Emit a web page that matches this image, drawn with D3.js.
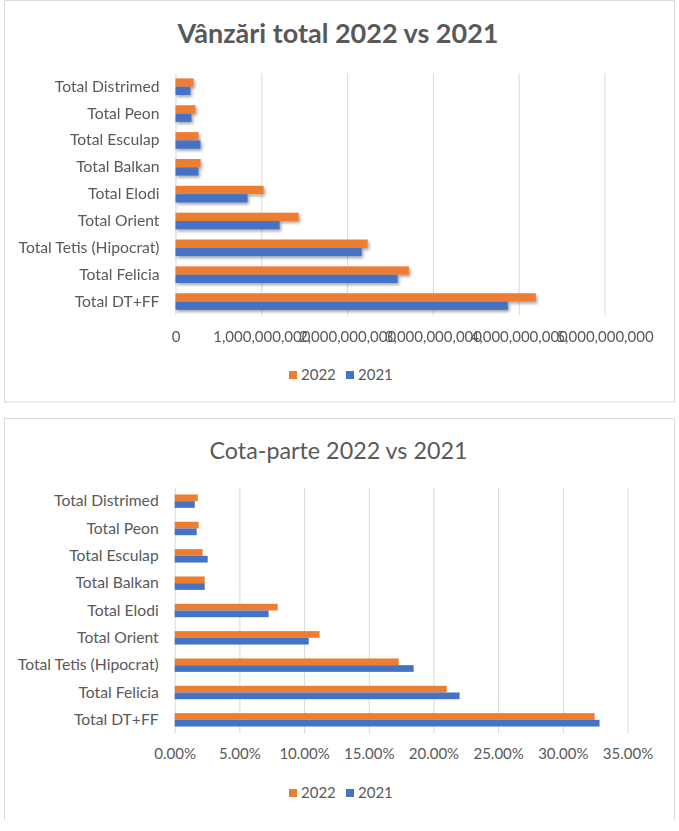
<!DOCTYPE html>
<html lang="ro">
<head>
    <meta charset="UTF-8">
    <title>Vânzări total 2022 vs 2021</title>
    <script src="https://d3js.org/d3.v7.min.js"></script>
    <style>
        body {
            margin: 0;
            padding: 0;
            background: #ffffff;
        }
        svg {
            display: block;
            font-family: 'Lato', 'Open Sans', sans-serif;
        }
        text {
            fill: #595959;
        }
    </style>
</head>
<body>
    <svg width="679" height="831"></svg>

    <script>
        // categories, top to bottom as they appear
        const categories = [
            "Total Distrimed", "Total Peon", "Total Esculap", "Total Balkan",
            "Total Elodi", "Total Orient", "Total Tetis (Hipocrat)",
            "Total Felicia", "Total DT+FF"
        ];
        const seriesNames = ["2022", "2021"];
        const seriesColors = ["#ed7d31", "#4472c4"];

        // sales totals (lei)
        const sales2022 = [210e6, 233e6, 268e6, 292e6, 1027e6, 1435e6, 2240e6, 2720e6, 4200e6];
        const sales2021 = [175e6, 187e6, 292e6, 268e6, 840e6, 1214e6, 2170e6, 2590e6, 3874e6];
        const salesTicks = [0, 1e9, 2e9, 3e9, 4e9, 5e9];

        // market share
        const share2022 = [0.0178, 0.0185, 0.0216, 0.0232, 0.0796, 0.1120, 0.1731, 0.2102, 0.3246];
        const share2021 = [0.0155, 0.0170, 0.0255, 0.0232, 0.0726, 0.1036, 0.1847, 0.2202, 0.3284];
        const shareTicks = [0, 0.05, 0.10, 0.15, 0.20, 0.25, 0.30, 0.35];

        const svg = d3.select("svg");

        const defs = svg.append("defs");
        defs.append("filter")
            .attr("id", "shadow")
            .attr("x", "-10%").attr("y", "-40%")
            .attr("width", "130%").attr("height", "200%")
            .append("feDropShadow")
            .attr("dx", 1.5).attr("dy", 2)
            .attr("stdDeviation", 1.5)
            .attr("flood-color", "#000")
            .attr("flood-opacity", 0.35);

        function drawChart(cfg) {
            const g = svg.append("g");

            // frame
            const f = cfg.frame;
            g.append("path")
                .attr("d", cfg.openBottom
                    ? `M${f.x0},${f.y1} V${f.y0} H${f.x1} V${f.y1}`
                    : `M${f.x0},${f.y0} H${f.x1} V${f.y1} H${f.x0} Z`)
                .attr("fill", "none")
                .attr("stroke", "#d9d9d9")
                .attr("stroke-width", 1);

            // title
            g.append("text")
                .attr("x", cfg.titleX)
                .attr("y", cfg.titleY)
                .attr("text-anchor", "middle")
                .attr("font-size", cfg.titleSize)
                .attr("font-weight", cfg.titleWeight)
                .text(cfg.title);

            const x = d3.scaleLinear()
                .domain(cfg.domain)
                .range([cfg.left, cfg.right]);

            const y = d3.scaleBand()
                .domain(categories)
                .range([cfg.top, cfg.bottom])
                .paddingInner(cfg.pad)
                .paddingOuter(cfg.pad / 2);

            const ySub = d3.scaleBand()
                .domain(seriesNames)
                .range([0, y.bandwidth()]);

            // gridlines
            g.append("g")
                .attr("transform", `translate(0,${cfg.bottom})`)
                .call(d3.axisBottom(x).tickValues(cfg.ticks).tickSize(-(cfg.bottom - cfg.top)).tickFormat(""))
                .call(a => a.select(".domain").remove())
                .call(a => a.selectAll("line").attr("stroke", "#d9d9d9"));

            // bars
            const rows = categories.map((c, i) => ({
                cat: c,
                vals: [cfg.values[0][i], cfg.values[1][i]]
            }));

            const grp = g.append("g")
                .attr("filter", cfg.shadow ? "url(#shadow)" : null);

            grp.selectAll(".cat")
                .data(rows)
                .enter()
                .append("g")
                .attr("transform", d => `translate(0,${y(d.cat)})`)
                .selectAll("rect")
                .data(d => d.vals.map((v, k) => ({ s: seriesNames[k], v: v, k: k })))
                .enter()
                .append("rect")
                .attr("x", x(0))
                .attr("y", d => ySub(d.s))
                .attr("width", d => x(d.v) - x(0))
                .attr("height", ySub.bandwidth())
                .attr("fill", d => seriesColors[d.k]);

            // category labels
            g.append("g")
                .attr("transform", `translate(${cfg.left},0)`)
                .call(d3.axisLeft(y).tickSize(0).tickPadding(16))
                .call(a => a.select(".domain").remove())
                .call(a => a.selectAll("text")
                    .attr("font-size", 15.7)
                    .attr("font-family", "Lato, sans-serif")
                    .attr("fill", "#595959"));

            // value ticks
            g.append("g")
                .attr("transform", `translate(0,${cfg.bottom})`)
                .call(d3.axisBottom(x).tickValues(cfg.ticks).tickSize(0).tickPadding(cfg.tickPad).tickFormat(cfg.format))
                .call(a => a.select(".domain").remove())
                .call(a => a.selectAll("text")
                    .attr("font-size", 15)
                    .attr("font-family", "Lato, sans-serif")
                    .attr("fill", "#595959"));

            // legend
            const lg = g.append("g")
                .attr("transform", `translate(${cfg.legendX},${cfg.legendY})`);
            const item = lg.selectAll("g")
                .data(seriesNames)
                .enter()
                .append("g")
                .attr("transform", (d, i) => `translate(${i * 57},0)`);
            item.append("rect")
                .attr("x", 0).attr("y", -9)
                .attr("width", 8).attr("height", 8)
                .attr("fill", (d, i) => seriesColors[i]);
            item.append("text")
                .attr("x", 12)
                .attr("y", 0)
                .attr("font-size", 15)
                .text(d => d);
        }

        drawChart({
            frame: { x0: 4.5, y0: 0.5, x1: 674.5, y1: 402 },
            title: "Vânzări total 2022 vs 2021",
            titleX: 338, titleY: 43, titleSize: 27, titleWeight: "bold",
            domain: [0, 5e9], ticks: salesTicks, format: d3.format(","),
            left: 175.5, right: 604.5, top: 73.3, bottom: 315,
            pad: 0.38, tickPad: 16,
            values: [sales2022, sales2021],
            shadow: true,
            legendX: 289, legendY: 380
        });

        drawChart({
            frame: { x0: 4.5, y0: 418.5, x1: 674.5, y1: 820 },
            openBottom: true,
            title: "Cota-parte 2022 vs 2021",
            titleX: 338.5, titleY: 458.5, titleSize: 23.3, titleWeight: "normal",
            domain: [0, 0.35], ticks: shareTicks, format: d3.format(".2%"),
            left: 174.7, right: 627.5, top: 487.5, bottom: 733.5,
            pad: 0.51, tickPad: 15,
            values: [share2022, share2021],
            shadow: false,
            legendX: 289, legendY: 798
        });
    </script>
</body>
</html>
